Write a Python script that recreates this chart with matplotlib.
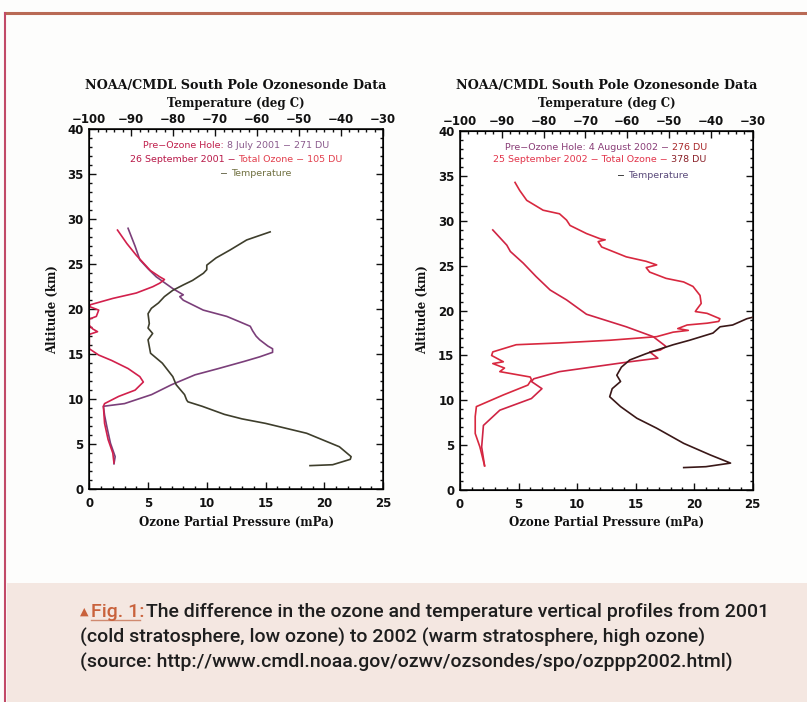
import matplotlib
matplotlib.use("Agg")
import matplotlib.pyplot as plt
from matplotlib.ticker import MultipleLocator
from matplotlib.patches import Rectangle
from matplotlib.lines import Line2D

# ---------------- data ----------------
# 2001 panel
jul01_km = [2.8, 3.6, 5.1, 6.9, 8.2, 9.2, 9.5, 10.5, 11.6, 12.7, 13.4, 14.2, 14.7, 15.2, 15.6, 15.9,
            16.6, 17.0, 17.6, 18.1, 18.6, 19.2, 19.9, 21.0, 21.4, 21.6, 22.3, 23.6, 24.5, 25.5, 27.0,
            28.0, 29.0]
jul01_mpa = [2.1, 2.2, 1.8, 1.5, 1.3, 1.2, 3.0, 5.3, 7.0, 9.0, 11.0, 13.2, 14.5, 15.6, 15.6, 15.2,
             14.5, 14.2, 13.9, 13.7, 12.8, 11.7, 9.7, 8.0, 7.7, 8.0, 7.1, 5.7, 5.0, 4.3, 3.9, 3.6, 3.3]

sep01_km = [2.9, 4.0, 5.5, 7.3, 9.2, 9.5, 10.3, 11.0, 11.9, 12.5, 13.4, 14.3, 14.9, 15.6, 16.3, 17.2,
            17.5, 17.8, 18.2, 18.9, 19.2, 19.9, 20.3, 20.5, 21.2, 21.8, 22.5, 22.9, 23.3, 23.6, 24.3,
            26.0, 27.3, 28.8]
sep01_mpa = [2.1, 2.0, 1.6, 1.3, 1.2, 1.3, 2.5, 3.9, 4.6, 4.3, 3.3, 1.9, 0.8, 0.0, 0.0, 0.0, 0.7, 0.3,
             0.0, 0.0, 0.6, 0.8, 0.0, 0.1, 2.0, 4.0, 5.4, 6.0, 6.4, 6.0, 5.2, 4.0, 3.2, 2.4]

t01_km = [2.6, 2.7, 3.3, 3.6, 4.7, 6.2, 7.3, 7.8, 8.3, 9.2, 9.7, 9.9, 10.5, 11.6, 12.5, 14.0, 15.1,
          16.6, 17.3, 17.9, 18.4, 19.5, 20.1, 20.7, 21.4, 22.1, 22.7, 23.2, 24.0, 24.4, 24.9, 25.7,
          26.6, 27.7, 28.2, 28.6]
t01_c = [-47.4, -42.0, -37.8, -37.6, -40.4, -48.2, -58.0, -63.6, -67.8, -73.1, -76.5, -76.8, -77.3,
         -79.3, -80.1, -82.6, -85.4, -86.0, -84.9, -86.0, -85.7, -86.0, -85.2, -83.5, -82.1, -80.1,
         -77.6, -75.4, -72.8, -72.0, -72.0, -69.8, -66.4, -62.5, -59.4, -56.9]

# 2002 panel
aug02_km = [2.7, 4.8, 7.2, 8.9, 10.2, 11.3, 12.1, 12.4, 13.2, 14.3, 14.7, 15.4, 15.6, 16.0, 16.5,
            17.1, 18.2, 19.6, 21.2, 22.3, 23.8, 25.3, 26.6, 27.3, 29.0]
aug02_mpa = [2.1, 1.85, 2.0, 3.4, 6.1, 7.0, 6.1, 6.3, 8.5, 14.5, 16.9, 16.2, 17.1, 17.6, 17.1, 16.5,
             14.2, 10.8, 9.1, 7.7, 6.5, 5.4, 4.3, 4.0, 2.8]

sep02_km = [2.7, 4.8, 6.3, 8.2, 9.3, 10.6, 11.7, 12.3, 12.6, 13.2, 13.6, 14.1, 14.3, 15.0, 15.4, 16.2,
            16.4, 16.7, 17.1, 17.6, 17.8, 18.0, 18.4, 18.6, 18.8, 19.1, 19.7, 19.9, 20.1, 20.8, 21.7,
            22.7, 23.2, 23.6, 24.3, 24.8, 25.1, 25.5, 26.0, 27.1, 27.7, 27.9, 28.0, 28.6, 29.5, 30.1,
            30.8, 31.2, 32.3, 33.4, 34.3]
sep02_mpa = [2.1, 1.7, 1.3, 1.3, 1.4, 3.7, 5.8, 6.1, 6.0, 3.4, 3.8, 2.8, 3.7, 2.7, 2.8, 4.8, 8.5,
             12.8, 16.8, 18.2, 19.5, 18.6, 19.4, 21.1, 22.1, 22.2, 21.1, 20.1, 20.2, 20.6, 20.5, 19.9,
             19.1, 17.6, 16.2, 15.9, 16.8, 15.9, 14.2, 12.1, 11.8, 12.4, 12.0, 10.8, 9.4, 9.1, 8.5,
             7.1, 5.7, 5.1, 4.7]

t02_km = [2.5, 2.6, 3.0, 3.9, 5.2, 6.9, 8.0, 9.3, 10.4, 11.3, 12.1, 12.8, 13.7, 14.5, 15.2, 15.6,
          16.2, 16.7, 17.5, 18.2, 18.4, 19.1, 19.3, 19.8]
t02_c = [-46.5, -41.2, -35.3, -40.1, -46.5, -53.0, -57.7, -61.6, -64.2, -63.6, -61.6, -62.5, -61.4,
         -59.4, -55.5, -53.0, -49.0, -45.1, -39.5, -37.8, -34.8, -31.4, -29.7, -27.5]

title_text = "NOAA/CMDL South Pole Ozonesonde Data"
top_label = "Temperature (deg C)"
bottom_label = "Ozone Partial Pressure (mPa)"
y_label = "Altitude (km)"

legend_2001 = [[("Pre\u2212Ozone Hole: ", "#c0204c"), ("8 July 2001 \u2212 271 DU", "#8a5a8c")],
               [("26 September 2001 \u2212 ", "#b81848"), ("Total Ozone \u2212 105 DU", "#e2404e")],
               [("\u2212 ", "#505030"), ("Temperature", "#707040")]]
legend_2002 = [[("Pre\u2212Ozone Hole: 4 August 2002 \u2212 ", "#8a3e78"), ("276 DU", "#a8282a")],
               [("25 September 2002 \u2212 Total Ozone \u2212 ", "#e2344a"), ("378 DU", "#8a2028")],
               [("\u2212 ", "#111111"), ("Temperature", "#5a4a7a")]]

caption_lines = ["The difference in the ozone and temperature vertical profiles from 2001",
                 "(cold stratosphere, low ozone) to 2002 (warm stratosphere, high ozone)",
                 "(source: http://www.cmdl.noaa.gov/ozwv/ozsondes/spo/ozppp2002.html)"]

# ---------------- figure ----------------
W, H = 807, 702
fig = plt.figure(figsize=(W / 100, H / 100), dpi=100)
fig.patch.set_facecolor("#fdfdfc")


def fx(x):
    return x / W


def fy(y):
    return 1 - y / H


# page decorations
fig.patches.append(Rectangle((fx(7), 0), 1 - fx(7), fy(583), transform=fig.transFigure,
                             facecolor="#f4e7e1", edgecolor="none", zorder=0))
fig.lines.append(Line2D([fx(5), 1], [fy(13), fy(13)], transform=fig.transFigure,
                        color="#b96a55", lw=2.2))
fig.lines.append(Line2D([fx(5), fx(5)], [fy(13), 0], transform=fig.transFigure,
                        color="#c24a68", lw=1.5))

label_font = dict(family="DejaVu Serif", weight="bold")


def make_panel(rect, ozone_series, temp_km, temp_c, temp_color, legend, legend_pos):
    x0, y0, x1, y1 = rect
    ax = fig.add_axes([fx(x0), fy(y0), fx(x1) - fx(x0), fy(y1) - fy(y0)])
    ax.set_facecolor("white")
    ax.set_xlim(0, 25)
    ax.set_ylim(0, 40)
    for km, mpa, col in ozone_series:
        ax.plot(mpa, km, color=col, lw=1.2)
    ax.xaxis.set_major_locator(MultipleLocator(5))
    ax.xaxis.set_minor_locator(MultipleLocator(1))
    ax.yaxis.set_major_locator(MultipleLocator(5))
    ax.yaxis.set_minor_locator(MultipleLocator(1))
    ax.tick_params(which="both", direction="in", top=False, right=True, width=1.0,
                   labelsize=8.5, colors="#111111")
    ax.tick_params(which="major", length=5)
    ax.tick_params(which="minor", length=2.5)
    ax.tick_params(axis="x", pad=6)
    ax.tick_params(axis="y", pad=4)
    for lab in ax.get_xticklabels() + ax.get_yticklabels():
        lab.set_fontweight("bold")
    for s in ax.spines.values():
        s.set_linewidth(1.1)

    axt = ax.twiny()
    axt.set_xlim(-100, -30)
    axt.plot(temp_c, temp_km, color=temp_color, lw=1.2)
    axt.xaxis.set_major_locator(MultipleLocator(10))
    axt.xaxis.set_minor_locator(MultipleLocator(2))
    axt.tick_params(which="both", direction="in", width=1.0, labelsize=8.5, pad=2.5,
                    colors="#111111")
    axt.tick_params(which="major", length=5)
    axt.tick_params(which="minor", length=2.5)
    for lab in axt.get_xticklabels():
        lab.set_fontweight("bold")

    xc = (x0 + x1) / 2
    fig.text(fx(xc), fy(86), title_text, ha="center", va="center", fontsize=9.2,
             color="#111111", **label_font)
    fig.text(fx(xc), fy(103), top_label, ha="center", va="center", fontsize=8.5,
             color="#111111", **label_font)
    fig.text(fx(xc), fy(522), bottom_label, ha="center", va="center", fontsize=8.5,
             color="#111111", **label_font)
    fig.text(fx(x0 - 37), fy(310), y_label, ha="center", va="center",
             rotation=90, fontsize=8.5, color="#111111", **label_font)

    renderer = fig.canvas.get_renderer()
    for parts, (xcen, ypos) in zip(legend, legend_pos):
        texts = [fig.text(0, 0, s, color=c, fontsize=6.8, ha="left", va="center",
                          family="DejaVu Sans") for s, c in parts]
        widths = [t.get_window_extent(renderer).width for t in texts]
        x = xcen - sum(widths) / 2
        for t, w in zip(texts, widths):
            t.set_position((fx(x), fy(ypos)))
            x += w
    return ax


make_panel((89.3, 489, 383, 129.4),
           [(jul01_km, jul01_mpa, "#7b3f7a"), (sep01_km, sep01_mpa, "#d2204c")],
           t01_km, t01_c, "#3e3e2c", legend_2001,
           [(236, 146), (236, 159), (256, 174)])

make_panel((460, 490, 752.7, 131.3),
           [(aug02_km, aug02_mpa, "#cf2444"), (sep02_km, sep02_mpa, "#d8283f")],
           t02_km, t02_c, "#3a1818", legend_2002,
           [(606, 147), (600, 160), (653, 175)])

# ---------------- caption ----------------
cap_family = ["Roboto", "DejaVu Sans"]
renderer = fig.canvas.get_renderer()
fs = 14
fig.text(fx(80), fy(612), "\u25B2", fontsize=8, family="DejaVu Sans",
         ha="left", va="center", color="#c9623c")
tf = fig.text(fx(91), fy(612), "Fig. 1:", fontsize=fs, family=cap_family, weight="medium",
              ha="left", va="center", color="#c9623c")
t1 = fig.text(fx(137), fy(612), caption_lines[0], fontsize=fs, family=cap_family,
              weight="medium", ha="left", va="center", color="#1e1e1e")
t2 = fig.text(fx(80), fy(637), caption_lines[1], fontsize=fs, family=cap_family,
              weight="medium", ha="left", va="center", color="#1e1e1e")
t3 = fig.text(fx(80), fy(662), caption_lines[2], fontsize=fs, family=cap_family,
              weight="medium", ha="left", va="center", color="#1e1e1e")
# scale so that "Fig. 1:" + line 1 span the reference width (x 91 .. 770)
wf = tf.get_window_extent(renderer).width
w1 = t1.get_window_extent(renderer).width
fs = fs * (770 - 91) / (wf + 2 + w1)
for t in (tf, t1, t2, t3):
    t.set_fontsize(fs)
ext = tf.get_window_extent(renderer)
t1.set_position((fx(ext.x1 + 2), fy(612)))
fig.lines.append(Line2D([ext.x0 / W, (ext.x1 - 5) / W], [(ext.y0 + 1) / H, (ext.y0 + 1) / H],
                        transform=fig.transFigure, color="#d08a70", lw=1.0))

fig.savefig("out.png", dpi=100, facecolor=fig.get_facecolor())
